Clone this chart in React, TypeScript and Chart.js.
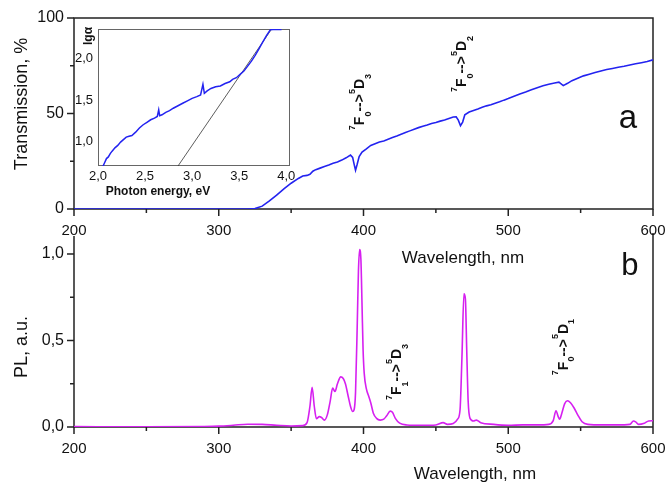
import React, { useEffect, useRef } from 'react';
import { Chart, registerables } from 'chart.js';

Chart.register(...registerables);

const FONT = "Arial, 'Liberation Sans', Helvetica, sans-serif";
const W = 667;
const H = 483;

// ---------- Panel a: transmission ----------
const transWl = [200, 250, 300, 320, 325, 330, 335, 340, 345, 350, 355, 358, 361, 363, 365, 367, 370, 373, 376, 379, 382, 385, 388, 391, 392.5, 393.5, 394.5, 395.5, 397, 399, 402, 405, 408, 411, 414, 417, 420, 423, 426, 429, 432, 435, 438, 441, 444, 447, 450, 453, 456, 459, 462, 464, 465.5, 467, 468.5, 470, 473, 476, 479, 482, 485, 488, 491, 494, 497, 500, 504, 508, 512, 516, 520, 524, 528, 532, 535, 538, 541, 544, 548, 552, 556, 560, 564, 568, 572, 576, 580, 584, 588, 592, 596, 600];
const transVal = [0, 0, 0, 0, 0.2, 1.5, 4.2, 7.3, 10.5, 13.5, 16.0, 17.3, 17.6, 18.2, 19.8, 20.6, 21.4, 22.2, 23.0, 23.9, 24.6, 25.6, 26.8, 28.2, 27.0, 23.5, 20.3, 23.0, 27.5, 29.8, 31.5, 33.3, 34.2, 35.1, 35.6, 36.5, 37.4, 38.2, 39.1, 40.0, 40.9, 41.8, 42.6, 43.3, 44.0, 44.8, 45.3, 46.0, 46.6, 47.4, 48.2, 48.3, 46.5, 43.6, 45.5, 49.3, 50.8, 51.6, 52.4, 53.3, 54.0, 54.6, 55.4, 56.1, 57.0, 57.8, 59.0, 60.2, 61.2, 62.4, 63.5, 64.5, 65.3, 66.0, 66.4, 64.6, 65.8, 67.2, 68.5, 69.7, 70.6, 71.5, 72.3, 73.0, 73.6, 74.2, 74.7, 75.4, 76.0, 76.6, 77.2, 78.1];

// ---------- Panel b: photoluminescence ----------
const plWl = [200, 250, 290, 300, 310, 320, 330, 340, 350, 358, 361, 363, 364.5, 366, 367.5, 369.5, 371, 373, 375, 377, 378.7, 380.3, 382, 384.3, 386, 387.5, 389.5, 391, 392.5, 393.5, 394.5, 395.7, 396.5, 397.3, 398.2, 399, 399.7, 400.5, 402, 403.5, 405, 406.8, 409, 411.5, 414, 416, 418.5, 420, 422, 425, 430, 440, 450, 455, 458, 462, 465, 466.7, 468, 469.4, 470.4, 471.3, 472.3, 473.6, 476, 478, 481, 490, 500, 510, 520, 528, 531, 533, 534.5, 535.5, 537, 539, 541, 543, 545.5, 548, 551, 555, 565, 575, 584, 586.5, 588, 590, 594, 597, 600];
const plVal = [0.002, 0.001, 0.003, 0.005, 0.01, 0.016, 0.015, 0.01, 0.006, 0.008, 0.025, 0.12, 0.23, 0.12, 0.048, 0.06, 0.055, 0.04, 0.07, 0.15, 0.225, 0.205, 0.25, 0.29, 0.28, 0.25, 0.175, 0.12, 0.09, 0.1, 0.2, 0.6, 0.9, 1.025, 0.97, 0.7, 0.45, 0.31, 0.22, 0.18, 0.14, 0.08, 0.05, 0.04, 0.045, 0.065, 0.092, 0.085, 0.05, 0.022, 0.012, 0.01, 0.012, 0.025, 0.015, 0.02, 0.045, 0.1, 0.4, 0.77, 0.74, 0.45, 0.15, 0.05, 0.035, 0.04, 0.025, 0.015, 0.01, 0.012, 0.012, 0.015, 0.035, 0.094, 0.06, 0.045, 0.08, 0.135, 0.152, 0.14, 0.11, 0.07, 0.03, 0.015, 0.012, 0.012, 0.015, 0.035, 0.03, 0.015, 0.022, 0.035, 0.036];

// ---------- Inset: lg(alpha) vs photon energy ----------
const insetE = [2.05, 2.07, 2.09, 2.11, 2.13, 2.15, 2.18, 2.21, 2.24, 2.27, 2.3, 2.33, 2.36, 2.4, 2.44, 2.48, 2.52, 2.56, 2.6, 2.63, 2.645, 2.655, 2.68, 2.72, 2.76, 2.8, 2.85, 2.9, 2.95, 3.0, 3.05, 3.09, 3.115, 3.13, 3.16, 3.2, 3.25, 3.3, 3.35, 3.4, 3.43, 3.47, 3.51, 3.55, 3.59, 3.63, 3.67, 3.71, 3.75, 3.79, 3.83, 3.86, 3.9, 3.95];
const insetLg = [0.69, 0.74, 0.79, 0.81, 0.85, 0.88, 0.92, 0.95, 0.99, 1.02, 1.05, 1.06, 1.07, 1.11, 1.16, 1.2, 1.23, 1.26, 1.28, 1.3, 1.38, 1.31, 1.32, 1.35, 1.37, 1.4, 1.43, 1.46, 1.49, 1.52, 1.54, 1.56, 1.69, 1.58, 1.61, 1.64, 1.66, 1.67, 1.7, 1.72, 1.75, 1.77, 1.81, 1.85, 1.91, 1.97, 2.04, 2.12, 2.2, 2.28, 2.35, 2.355, 2.355, 2.355];
const tangentE = [2.85, 3.86];
const tangentLg = [0.7, 2.385];

// ---------- Ticks ----------
const wlTicks = [200, 300, 400, 500, 600];
const wlMinor = [250, 350, 450, 550];
const transTicks = [0, 50, 100];
const transMinor = [25, 75];
const plTicks = [0, 0.5, 1.0];
const plMinor = [0.25, 0.75];
const insetXTicks = [2.0, 2.5, 3.0, 3.5, 4.0];
const insetYTicks = [1.0, 1.5, 2.0];

const comma = (v: number) => v.toFixed(1).replace('.', ',');
const pts = (xs: number[], ys: number[]) => xs.map((x, i) => ({ x, y: ys[i] }));

type Part = { t: string; k: 'n' | 'sup' | 'sub' };
const tr = (a: string, b: string, c: string, d: string): Part[] => [
  { t: a, k: 'sup' }, { t: 'F', k: 'n' }, { t: b, k: 'sub' }, { t: '-->', k: 'n' },
  { t: c, k: 'sup' }, { t: 'D', k: 'n' }, { t: d, k: 'sub' },
];

type TextItem = { text: string; x: number; y: number; font: string; rot?: boolean; base?: CanvasTextBaseline };
type TransItem = { parts: Part[]; x: number; y: number };
type TickSpec = { id: string; major: number[]; minor: number[] };
type DecorCfg = { frame: 'box' | 'open' | 'inset'; ticks: TickSpec[]; texts: TextItem[]; trans: TransItem[] };

function drawTransition(ctx: CanvasRenderingContext2D, cx: number, cy: number, parts: Part[]) {
  const big = `bold 14px ${FONT}`;
  const small = `bold 9px ${FONT}`;
  ctx.save();
  ctx.translate(cx, cy);
  ctx.rotate(-Math.PI / 2);
  ctx.textAlign = 'left';
  ctx.textBaseline = 'alphabetic';
  ctx.fillStyle = '#111';
  let total = 0;
  for (const p of parts) {
    ctx.font = p.k === 'n' ? big : small;
    total += ctx.measureText(p.t).width;
  }
  let x = -total / 2;
  const base = 5;
  for (const p of parts) {
    ctx.font = p.k === 'n' ? big : small;
    const dy = p.k === 'sup' ? base - 9.5 : p.k === 'sub' ? base + 6.5 : base;
    ctx.fillText(p.t, x, dy);
    x += ctx.measureText(p.t).width;
  }
  ctx.restore();
}

function makeDecor(cfg: DecorCfg) {
  return {
    id: 'decor',
    beforeDatasetsDraw(chart: any) {
      const ctx: CanvasRenderingContext2D = chart.ctx;
      const a = chart.chartArea;
      ctx.save();
      if (cfg.frame === 'inset') {
        ctx.strokeStyle = '#666';
        ctx.lineWidth = 1;
        ctx.strokeRect(a.left + 0.5, a.top + 0.5, a.right - a.left - 1, a.bottom - a.top - 1);
      } else {
        ctx.strokeStyle = '#222';
        ctx.lineWidth = 1.5;
        ctx.beginPath();
        if (cfg.frame === 'box') {
          ctx.rect(a.left, a.top, a.right - a.left, a.bottom - a.top);
        } else {
          ctx.moveTo(a.left, a.top);
          ctx.lineTo(a.left, a.bottom);
          ctx.lineTo(a.right, a.bottom);
          ctx.moveTo(a.right, a.top - 3);
          ctx.lineTo(a.right, a.bottom);
        }
        ctx.stroke();
        for (const t of cfg.ticks) {
          const s = chart.scales[t.id];
          const horiz = s.isHorizontal();
          const draw = (vals: number[], len: number) => {
            for (const v of vals) {
              const p = s.getPixelForValue(v);
              ctx.beginPath();
              if (horiz) {
                ctx.moveTo(p, a.bottom);
                ctx.lineTo(p, a.bottom + len);
              } else {
                ctx.moveTo(a.left, p);
                ctx.lineTo(a.left - len, p);
              }
              ctx.stroke();
            }
          };
          draw(t.major, 7);
          draw(t.minor, 4);
        }
      }
      ctx.restore();
    },
    afterDraw(chart: any) {
      const ctx: CanvasRenderingContext2D = chart.ctx;
      const sx = chart.scales.x;
      const sy = chart.scales.y;
      ctx.save();
      for (const t of cfg.texts) {
        const px = sx.getPixelForValue(t.x);
        const py = sy.getPixelForValue(t.y);
        ctx.save();
        ctx.font = t.font;
        ctx.fillStyle = '#111';
        ctx.textAlign = 'center';
        ctx.textBaseline = t.base || 'middle';
        ctx.translate(px, py);
        if (t.rot) ctx.rotate(-Math.PI / 2);
        ctx.fillText(t.text, 0, 0);
        ctx.restore();
      }
      for (const t of cfg.trans) {
        drawTransition(ctx, sx.getPixelForValue(t.x), sy.getPixelForValue(t.y), t.parts);
      }
      ctx.restore();
    },
  };
}

function axis(min: number, max: number, ticks: number[], size: number, horiz: boolean, pad: number, fontSize: number, fmt: (v: number) => string) {
  return {
    type: 'linear',
    min,
    max,
    afterBuildTicks: (s: any) => {
      s.ticks = ticks.map((v) => ({ value: v }));
    },
    afterFit: (s: any) => {
      if (horiz) {
        s.height = size;
        s.paddingLeft = 0;
        s.paddingRight = 0;
      } else {
        s.width = size;
        s.paddingTop = 0;
        s.paddingBottom = 0;
      }
    },
    grid: { display: false, drawTicks: false, tickLength: 0 },
    border: { display: false },
    ticks: {
      padding: pad,
      color: '#111',
      autoSkip: false,
      maxRotation: 0,
      minRotation: 0,
      font: { family: FONT, size: fontSize },
      callback: (v: any) => fmt(Number(v)),
    },
  };
}

function baseOptions(padding: any, scales: any) {
  return {
    animation: false,
    responsive: false,
    maintainAspectRatio: false,
    events: [],
    layout: { padding },
    plugins: { legend: { display: false }, tooltip: { enabled: false }, title: { display: false } },
    scales,
  };
}

const lineDs = (data: any, color: string, width: number, mono = false) => ({
  data,
  borderColor: color,
  borderWidth: width,
  pointRadius: 0,
  fill: false,
  tension: mono ? 0.4 : 0,
  cubicInterpolationMode: mono ? 'monotone' : 'default',
});

export default function App() {
  const topRef = useRef<HTMLCanvasElement>(null);
  const botRef = useRef<HTMLCanvasElement>(null);
  const insRef = useRef<HTMLCanvasElement>(null);

  useEffect(() => {
    Chart.defaults.font.family = FONT;
    const charts: Chart[] = [];

    // Bottom panel (b)
    charts.push(
      new Chart(botRef.current as HTMLCanvasElement, {
        type: 'line',
        data: { datasets: [lineDs(pts(plWl, plVal), 'rgb(214, 32, 240)', 1.6, true) as any] },
        options: baseOptions(
          { left: 0, right: 14, top: 236, bottom: 16 },
          {
            x: axis(200, 600, wlTicks, 40, true, 13, 15, (v) => String(v)),
            y: axis(0, 1.104, plTicks, 74, false, 10, 16, comma),
          }
        ) as any,
        plugins: [
          makeDecor({
            frame: 'open',
            ticks: [
              { id: 'x', major: wlTicks, minor: wlMinor },
              { id: 'y', major: plTicks, minor: plMinor },
            ],
            texts: [
              { text: 'Wavelength, nm', x: 477, y: -0.272, font: `17px ${FONT}` },
              { text: 'PL, a.u.', x: 164, y: 0.462, font: `18px ${FONT}`, rot: true },
              { text: 'b', x: 584, y: 0.879, font: `31px ${FONT}`, base: 'alphabetic' },
            ],
            trans: [
              { parts: tr('7', '1', '5', '3'), x: 422.5, y: 0.318 },
              { parts: tr('7', '0', '5', '1'), x: 537.8, y: 0.462 },
            ],
          }) as any,
        ],
      })
    );

    // Top panel (a)
    charts.push(
      new Chart(topRef.current as HTMLCanvasElement, {
        type: 'line',
        data: { datasets: [lineDs(pts(transWl, transVal), 'rgb(35, 35, 240)', 1.6) as any] },
        options: baseOptions(
          { left: 0, right: 14, top: 18, bottom: 234 },
          {
            x: axis(200, 600, wlTicks, 40, true, 13, 15, (v) => String(v)),
            y: axis(0, 100, transTicks, 74, false, 10, 16, (v) => String(v)),
          }
        ) as any,
        plugins: [
          makeDecor({
            frame: 'box',
            ticks: [
              { id: 'x', major: wlTicks, minor: wlMinor },
              { id: 'y', major: transTicks, minor: transMinor },
            ],
            texts: [
              { text: 'Wavelength, nm', x: 468.7, y: -25.65, font: `17px ${FONT}` },
              { text: 'Transmission, %', x: 164, y: 55, font: `18px ${FONT}`, rot: true },
              { text: 'a', x: 582.7, y: 42.4, font: `33px ${FONT}`, base: 'alphabetic' },
            ],
            trans: [
              { parts: tr('7', '0', '5', '3'), x: 396.9, y: 56 },
              { parts: tr('7', '0', '5', '2'), x: 467.4, y: 75.9 },
            ],
          }) as any,
        ],
      })
    );

    // Inset
    charts.push(
      new Chart(insRef.current as HTMLCanvasElement, {
        type: 'line',
        data: {
          datasets: [
            lineDs(pts(insetE, insetLg), 'rgb(35, 35, 240)', 1.5) as any,
            lineDs(pts(tangentE, tangentLg), '#333', 0.8) as any,
          ],
        },
        options: baseOptions(
          { left: 60, right: 377, top: 29, bottom: 297 },
          {
            x: axis(2.0, 4.04, insetXTicks, 20, true, 3, 13, comma),
            y: axis(0.7, 2.36, insetYTicks, 38, false, 5, 13, comma),
          }
        ) as any,
        plugins: [
          makeDecor({
            frame: 'inset',
            ticks: [],
            texts: [
              { text: 'Photon energy, eV', x: 2.637, y: 0.385, font: `bold 12px ${FONT}` },
              { text: 'lgα', x: 1.904, y: 2.275, font: `bold 12px ${FONT}`, rot: true },
            ],
            trans: [],
          }) as any,
        ],
      })
    );

    return () => {
      charts.forEach((c) => c.destroy());
    };
  }, []);

  const cs: React.CSSProperties = { position: 'absolute', left: 0, top: 0, width: W, height: H };
  return (
    <div style={{ position: 'fixed', left: 0, top: 0, width: W, height: H, background: '#fff' }}>
      <canvas ref={botRef} width={W} height={H} style={cs} />
      <canvas ref={topRef} width={W} height={H} style={cs} />
      <canvas ref={insRef} width={W} height={H} style={cs} />
    </div>
  );
}
